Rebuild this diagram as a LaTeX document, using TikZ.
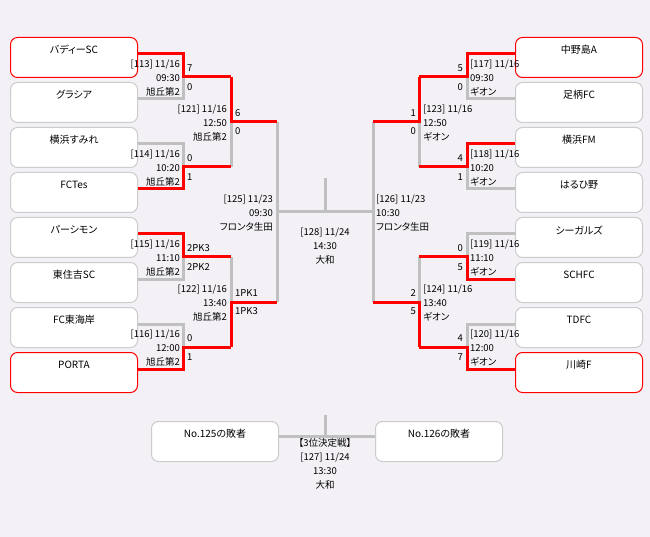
\documentclass[tikz,border=0pt]{standalone}
\usepackage{fontspec}
\setmainfont{Noto Sans CJK JP}[RawFeature=+palt]
\definecolor{bg}{RGB}{243,241,245}
\definecolor{lg}{RGB}{192,192,192}
\definecolor{bx}{RGB}{204,204,204}
\definecolor{rd}{RGB}{255,0,0}
\begin{document}
\begin{tikzpicture}[x=1pt,y=-1pt,
  box/.style={draw=bx, line width=1pt, fill=white, rounded corners=7pt, minimum width=127pt, minimum height=40pt, inner sep=0pt, anchor=north west},
  rbox/.style={box, draw=rd},
  nm/.style={font=\fontsize{10}{12}\selectfont, inner sep=0pt},
  lab/.style={font=\fontsize{9.5}{14}\selectfont, inner sep=0pt},
  sc/.style={font=\fontsize{9.5}{11}\selectfont, inner sep=0pt},
  gl/.style={draw=lg, line width=3pt},
  rl/.style={draw=rd, line width=3pt}]
\fill[bg] (0,0) rectangle (650,537);
\useasboundingbox (0,0) rectangle (650,537);
% boxes
\node[rbox] (L1) at (10,37) {};
\node[box] (L2) at (10,82) {};
\node[box] (L3) at (10,127) {};
\node[box] (L4) at (10,172) {};
\node[box] (L5) at (10,217) {};
\node[box] (L6) at (10,262) {};
\node[box] (L7) at (10,307) {};
\node[rbox] (L8) at (10,352) {};
\node[rbox] (R1) at (515,37) {};
\node[box] (R2) at (515,82) {};
\node[box] (R3) at (515,127) {};
\node[box] (R4) at (515,172) {};
\node[box] (R5) at (515,217) {};
\node[box] (R6) at (515,262) {};
\node[box] (R7) at (515,307) {};
\node[rbox] (R8) at (515,352) {};
\node[box] (T1) at (151,421) {};
\node[box] (T2) at (375,421) {};
% junction coordinates
\coordinate (a113) at (183,77); \coordinate (a114) at (183,167);
\coordinate (a115) at (183,257); \coordinate (a116) at (183,347);
\coordinate (b121) at (231,122); \coordinate (b122) at (231,302);
\coordinate (c125) at (277,212);
\coordinate (a117) at (467,77); \coordinate (a118) at (467,167);
\coordinate (a119) at (467,257); \coordinate (a120) at (467,347);
\coordinate (b123) at (419,122); \coordinate (b124) at (419,302);
\coordinate (c126) at (373,212);
\coordinate (top128) at (325,178); \coordinate (mid128) at (325,212);
\coordinate (top127) at (325,415); \coordinate (mid127) at (325,436);
% gray lines
\draw[gl] ([yshift=-17pt]L2.north east) -| (a113);
\draw[gl] ([yshift=-17pt]L3.north east) -| (a114);
\draw[gl] ([yshift=-17pt]L6.north east) -| (a115);
\draw[gl] ([yshift=-17pt]L7.north east) -| (a116);
\draw[gl] (a114 -| b121) -- (b121);
\draw[gl] (a115 -| b122) -- (b122);
\draw[gl] (b121 -| c125) -- (b122 -| c125);
\draw[gl] (c125) -- (c126);
\draw[gl] (top128) -- (mid128);
\draw[gl] ([yshift=-17pt]R2.north west) -| (a117);
\draw[gl] ([yshift=-17pt]R4.north west) -| (a118);
\draw[gl] ([yshift=-17pt]R5.north west) -| (a119);
\draw[gl] ([yshift=-17pt]R7.north west) -| (a120);
\draw[gl] (a118 -| b123) -- (b123);
\draw[gl] (a119 -| b124) -- (b124);
\draw[gl] (b123 -| c126) -- (b124 -| c126);
\draw[gl] ([yshift=5pt]T1.east) -- ([yshift=5pt]T2.west);
\draw[gl] (top127) -- (mid127);
% red lines
\draw[rl] ([yshift=-17pt]L1.north east) -| (a113) -- (a113 -| b121);
\draw[rl] ([yshift=-17pt]L4.north east) -| (a114) -- (a114 -| b121);
\draw[rl] ([yshift=-17pt]L5.north east) -| (a115) -- (a115 -| b122);
\draw[rl] ([yshift=-17pt]L8.north east) -| (a116) -- (a116 -| b122);
\draw[rl] (a113 -| b121) |- (c125 |- b121);
\draw[rl] (a116 -| b122) |- (c125 |- b122);
\draw[rl] ([yshift=-17pt]R1.north west) -| (a117) -- (a117 -| b123);
\draw[rl] ([yshift=-17pt]R3.north west) -| (a118) -- (a118 -| b123);
\draw[rl] ([yshift=-17pt]R6.north west) -| (a119) -- (a119 -| b124);
\draw[rl] ([yshift=-17pt]R8.north west) -| (a120) -- (a120 -| b124);
\draw[rl] (a117 -| b123) |- (c126 |- b123);
\draw[rl] (a120 -| b124) |- (c126 |- b124);
% box texts
\node[nm] (L1t) at ([yshift=-13pt]L1.north) {バディーSC};
\node[nm] (L2t) at ([yshift=-13pt]L2.north) {グラシア};
\node[nm] (L3t) at ([yshift=-13pt]L3.north) {横浜すみれ};
\node[nm] (L4t) at ([yshift=-13pt]L4.north) {FCTes};
\node[nm] (L5t) at ([yshift=-13pt]L5.north) {パーシモン};
\node[nm] (L6t) at ([yshift=-13pt]L6.north) {東住吉SC};
\node[nm] (L7t) at ([yshift=-13pt]L7.north) {FC東海岸};
\node[nm] (L8t) at ([yshift=-13pt]L8.north) {PORTA};
\node[nm] (R1t) at ([yshift=-13pt]R1.north) {中野島A};
\node[nm] (R2t) at ([yshift=-13pt]R2.north) {足柄FC};
\node[nm] (R3t) at ([yshift=-13pt]R3.north) {横浜FM};
\node[nm] (R4t) at ([yshift=-13pt]R4.north) {はるひ野};
\node[nm] (R5t) at ([yshift=-13pt]R5.north) {シーガルズ};
\node[nm] (R6t) at ([yshift=-13pt]R6.north) {SCHFC};
\node[nm] (R7t) at ([yshift=-13pt]R7.north) {TDFC};
\node[nm] (R8t) at ([yshift=-13pt]R8.north) {川崎F};
\node[nm] (T1t) at ([yshift=-13pt]T1.north) {No.125の敗者};
\node[nm] (T2t) at ([yshift=-13pt]T2.north) {No.126の敗者};
% left match labels
\node[lab, anchor=east, align=right] (m113) at (180,78) {[113] 11/16\\09:30\\旭丘第2};
\node[lab, anchor=east, align=right] (m114) at (180,168) {[114] 11/16\\10:20\\旭丘第2};
\node[lab, anchor=east, align=right] (m115) at (180,258) {[115] 11/16\\11:10\\旭丘第2};
\node[lab, anchor=east, align=right] (m116) at (180,348) {[116] 11/16\\12:00\\旭丘第2};
\node[lab, anchor=east, align=right] (m121) at (227,123) {[121] 11/16\\12:50\\旭丘第2};
\node[lab, anchor=east, align=right] (m122) at (227,303) {[122] 11/16\\13:40\\旭丘第2};
\node[lab, anchor=east, align=right] (m125) at (273,213) {[125] 11/23\\09:30\\フロンタ生田};
% right match labels
\node[lab, anchor=west, align=left] (m117) at (470,78) {[117] 11/16\\09:30\\ギオン};
\node[lab, anchor=west, align=left] (m118) at (470,168) {[118] 11/16\\10:20\\ギオン};
\node[lab, anchor=west, align=left] (m119) at (470,258) {[119] 11/16\\11:10\\ギオン};
\node[lab, anchor=west, align=left] (m120) at (470,348) {[120] 11/16\\12:00\\ギオン};
\node[lab, anchor=west, align=left] (m123) at (423,123) {[123] 11/16\\12:50\\ギオン};
\node[lab, anchor=west, align=left] (m124) at (423,303) {[124] 11/16\\13:40\\ギオン};
\node[lab, anchor=west, align=left] (m126) at (376,213) {[126] 11/23\\10:30\\フロンタ生田};
% center
\node[lab, align=center] (m128) at (325,246) {[128] 11/24\\14:30\\大和};
\node[lab, align=center] (m127) at (325,464) {【3位決定戦】\\{[127] 11/24}\\13:30\\大和};
% scores left
\node[sc, anchor=west] (s113a) at (187,68) {7};
\node[sc, anchor=west] (s113b) at (187,87) {0};
\node[sc, anchor=west] (s114a) at (187,158) {0};
\node[sc, anchor=west] (s114b) at (187,177) {1};
\node[sc, anchor=west] (s115a) at (187,248) {2PK3};
\node[sc, anchor=west] (s115b) at (187,267) {2PK2};
\node[sc, anchor=west] (s116a) at (187,338) {0};
\node[sc, anchor=west] (s116b) at (187,357) {1};
\node[sc, anchor=west] (s121a) at (235,113) {6};
\node[sc, anchor=west] (s121b) at (235,131) {0};
\node[sc, anchor=west] (s122a) at (235,293) {1PK1};
\node[sc, anchor=west] (s122b) at (235,311) {1PK3};
% scores right
\node[sc, anchor=east] (s117a) at (463,68) {5};
\node[sc, anchor=east] (s117b) at (463,87) {0};
\node[sc, anchor=east] (s118a) at (463,158) {4};
\node[sc, anchor=east] (s118b) at (463,177) {1};
\node[sc, anchor=east] (s119a) at (463,248) {0};
\node[sc, anchor=east] (s119b) at (463,267) {5};
\node[sc, anchor=east] (s120a) at (463,338) {4};
\node[sc, anchor=east] (s120b) at (463,357) {7};
\node[sc, anchor=east] (s123a) at (416,113) {1};
\node[sc, anchor=east] (s123b) at (416,131) {0};
\node[sc, anchor=east] (s124a) at (416,293) {2};
\node[sc, anchor=east] (s124b) at (416,311) {5};
\end{tikzpicture}
\end{document}
